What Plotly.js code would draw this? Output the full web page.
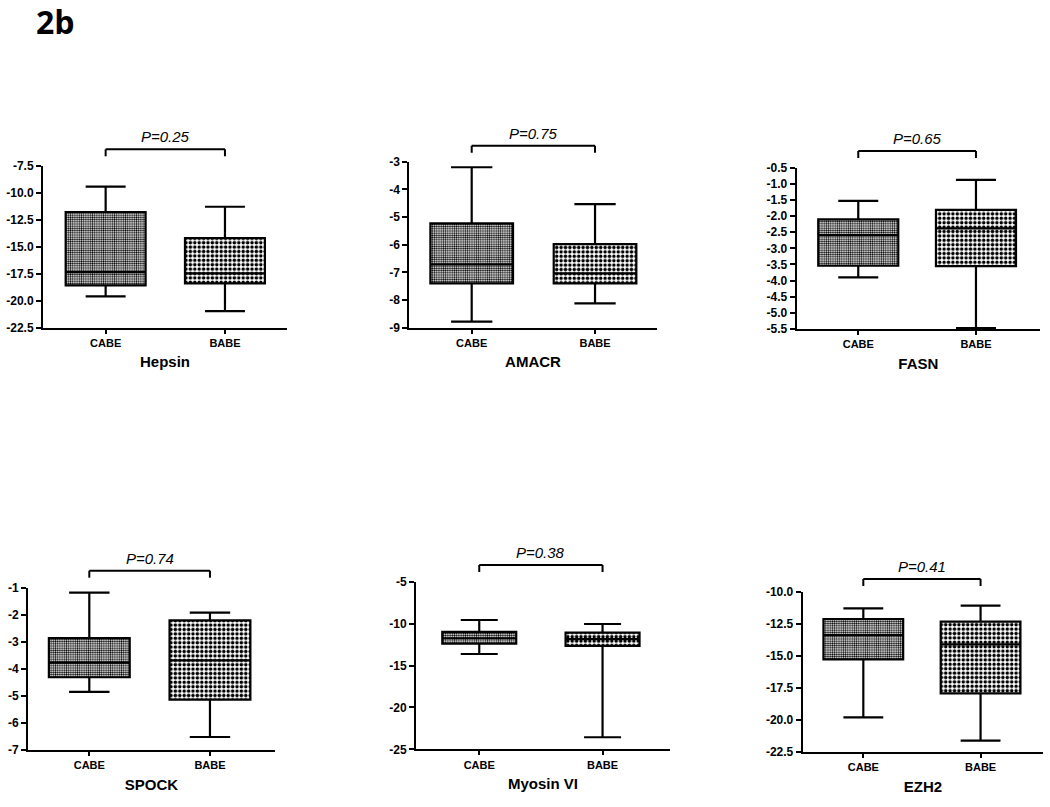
<!DOCTYPE html>
<html>
<head>
<meta charset="utf-8">
<script src="https://cdn.plot.ly/plotly-3.0.1.min.js"></script>
<style>html,body{margin:0;padding:0;background:#fff;}#chart{width:1050px;height:807px;}</style>
</head>
<body>
<div id="chart"></div>
<script>
// ---------- data ----------
const groups = ['CABE', 'BABE'];
const genes = ['Hepsin', 'AMACR', 'FASN', 'SPOCK', 'Myosin VI', 'EZH2'];
const pValues = ['P=0.25', 'P=0.75', 'P=0.65', 'P=0.74', 'P=0.38', 'P=0.41'];
// per gene: [CABE, BABE]
const upperWhisker = [[-9.44, -11.3], [-3.2, -4.53], [-1.53, -0.88], [-1.18, -1.92], [-9.57, -10.05], [-11.3, -11.09]];
const q3Values     = [[-11.79, -14.2], [-5.23, -5.98], [-2.10, -1.81], [-2.86, -2.21], [-10.99, -11.07], [-12.13, -12.34]];
const medianValues = [[-17.35, -17.47], [-6.71, -7.04], [-2.59, -2.38], [-3.77, -3.69], [-11.75, -11.85], [-13.38, -14.1]];
const q1Values     = [[-18.58, -18.4], [-7.4, -7.4], [-3.54, -3.55], [-4.31, -5.14], [-12.39, -12.66], [-15.28, -17.93]];
const lowerWhisker = [[-19.6, -20.96], [-8.78, -8.12], [-3.9, -5.47], [-4.85, -6.52], [-13.63, -23.56], [-19.8, -21.62]];
const yRanges = [[-22.5, -7.5], [-9, -3], [-5.5, -0.5], [-7, -1], [-25, -5], [-22.5, -10]];
const yDticks = [2.5, 1, 0.5, 1, 5, 2.5];
const yDecimals = [1, 0, 1, 0, 0, 1];

// ---------- layout geometry (pixels) ----------
const W = 1050, H = 807;
const panelPx = [
  {x0: 43, x1: 287, top: 165.7, bottom: 327.7, br: 149.3, cat: [-0.525, 1.52], bw: 0.67},
  {x0: 409.3, x1: 656.7, top: 161.7, bottom: 327.7, br: 145.7, cat: [-0.506, 1.5], bw: 0.67},
  {x0: 796.7, x1: 1040, top: 167.7, bottom: 329, br: 151, cat: [-0.523, 1.544], bw: 0.68},
  {x0: 28, x1: 275, top: 587.7, bottom: 750, br: 570.7, cat: [-0.508, 1.539], bw: 0.67},
  {x0: 416, x1: 670, top: 581.7, bottom: 749.3, br: 565, cat: [-0.513, 1.547], bw: 0.6},
  {x0: 802.7, x1: 1043.3, top: 591.7, bottom: 752, br: 579, cat: [-0.517, 1.535], bw: 0.68}
];

const FONT = 'Liberation Sans, Arial, sans-serif';
const traces = [];
const layout = {
  width: W, height: H,
  margin: {l: 0, r: 0, t: 0, b: 0},
  paper_bgcolor: '#fff', plot_bgcolor: 'rgba(0,0,0,0)',
  showlegend: false,
  barmode: 'overlay',
  boxmode: 'overlay',
  font: {family: FONT, color: '#000'},
  title: {
    text: '<b>2b</b>', x: 36 / W, xanchor: 'left', xref: 'paper',
    y: 1 - 23 / H, yref: 'container', yanchor: 'middle',
    font: {family: 'Open Sans, DejaVu Sans, sans-serif', size: 32, color: '#000'}
  },
  shapes: [],
  annotations: []
};

genes.forEach((g, i) => {
  const n = i + 1;
  const sfx = n === 1 ? '' : String(n);
  const xa = 'x' + sfx, ya = 'y' + sfx;
  const p = panelPx[i];
  // tick values / labels (hyphen minus as in the reference)
  const tv = [], tt = [];
  for (let v = yRanges[i][0]; v <= yRanges[i][1] + 1e-9; v += yDticks[i]) {
    tv.push(v);
    tt.push('<b>' + v.toFixed(yDecimals[i]) + '</b>');
  }
  // patterned fill of the boxes
  traces.push({
    type: 'bar', x: groups, xaxis: xa, yaxis: ya,
    base: q1Values[i],
    y: q3Values[i].map((v, k) => v - q1Values[i][k]),
    width: p.bw,
    marker: {
      color: '#fff',
      line: {width: 0},
      pattern: {shape: ['.', '.'], size: [2.2, 4.4], solidity: [0.5, 0.5], fgcolor: '#000', bgcolor: '#fff', fillmode: 'replace'}
    },
    hoverinfo: 'skip'
  });
  // box outlines, medians and whiskers
  traces.push({
    type: 'box', x: groups, xaxis: xa, yaxis: ya,
    q1: q1Values[i], median: medianValues[i], q3: q3Values[i],
    lowerfence: lowerWhisker[i], upperfence: upperWhisker[i],
    boxpoints: false, width: p.bw, whiskerwidth: 0.5,
    fillcolor: 'rgba(0,0,0,0)', line: {color: '#000', width: 2.2}
  });

  layout['xaxis' + sfx] = {
    domain: [p.x0 / W, p.x1 / W], anchor: ya,
    type: 'category', range: p.cat, fixedrange: true,
    showline: true, linewidth: 2, linecolor: '#000',
    showgrid: false, zeroline: false,
    ticks: 'outside', ticklen: 4, tickwidth: 2, tickcolor: '#000',
    tickfont: {family: FONT, size: 11, weight: 700, color: '#000'},
    title: {text: g, standoff: 9, font: {family: FONT, size: 15, weight: 700, color: '#000'}}
  };
  layout['yaxis' + sfx] = {
    domain: [1 - p.bottom / H, 1 - p.top / H], anchor: xa,
    range: yRanges[i], tickmode: 'array', tickvals: tv, ticktext: tt,
    showline: true, linewidth: 2, linecolor: '#000',
    showgrid: false, zeroline: false,
    ticks: 'outside', ticklen: 5, tickwidth: 2, tickcolor: '#000',
    tickfont: {family: FONT, size: 12, weight: 700, color: '#000'}
  };
  // significance bracket
  const yb = 1 - p.br / H, yd = 1 - (p.br + 7) / H;
  layout.shapes.push({type: 'line', xref: xa, yref: 'paper', x0: 0, x1: 1, y0: yb, y1: yb, line: {color: '#000', width: 2}});
  layout.shapes.push({type: 'line', xref: xa, yref: 'paper', x0: 0, x1: 0, y0: yb, y1: yd, line: {color: '#000', width: 2}});
  layout.shapes.push({type: 'line', xref: xa, yref: 'paper', x0: 1, x1: 1, y0: yb, y1: yd, line: {color: '#000', width: 2}});
  layout.annotations.push({
    xref: xa, yref: 'paper', x: 0.5, y: 1 - (p.br - 2) / H, yanchor: 'bottom',
    text: '<i>' + pValues[i] + '</i>', showarrow: false,
    font: {family: FONT, size: 15, color: '#000'}
  });
});

Plotly.newPlot('chart', traces, layout, {displayModeBar: false, staticPlot: true});
</script>
</body>
</html>
